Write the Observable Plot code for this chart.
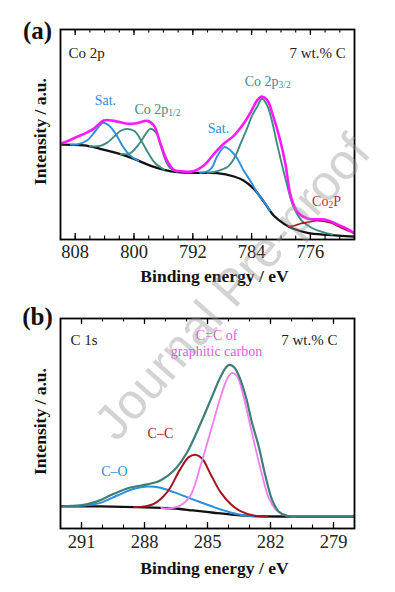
<!DOCTYPE html>
<html><head><meta charset="utf-8">
<script src="https://cdn.jsdelivr.net/npm/d3@7"></script>
<script src="https://cdn.jsdelivr.net/npm/@observablehq/plot@0.6"></script>
<style>
body{margin:0;background:#fff;}
#wrap{position:relative;width:395px;height:592px;overflow:hidden;}
#wrap svg{display:block;}
#wm{position:absolute;left:232px;top:287px;transform:translate(-50%,-50%) rotate(-48.5deg);font-family:"Liberation Sans",Arial,sans-serif;font-size:50px;color:rgba(150,150,150,0.42);white-space:nowrap;pointer-events:none;}
</style></head><body><div id="wrap"></div>
<script>
// ---------- Panel (a): Co 2p ----------
const coMajor = [808, 800, 792, 784, 776];
const coMinor = [810, 808, 806, 804, 802, 800, 798, 796, 794, 792, 790, 788, 786, 784, 782, 780, 778, 776, 774, 772, 770];

const coBgE = [810, 806.8, 804.6, 802.3, 800.0, 797.8, 795.9, 794.1, 791.0, 788.7, 786.4, 785.1, 783.7, 782.3, 781.0, 779.6, 778.3, 776.4, 773.7, 770.0];
const coBgI = [45.2, 44.8, 43.2, 41.1, 38.4, 35.2, 33.2, 32.1, 31.7, 31.6, 30.0, 28.1, 24.1, 17.8, 11.4, 7.5, 5.1, 3.2, 2.2, 1.4];

const coEnvE = [810, 808.6, 807.7, 806.8, 805.5, 804.1, 802.7, 800.9, 799.6, 798.2, 797.3, 796.4, 795.5, 794.6, 793.7, 791.9, 790.5, 789.1, 787.8, 786.4, 785.1, 784.0, 783.3, 782.7, 781.9, 781.0, 780.1, 779.4, 778.7, 778.0, 777.3, 776.4, 775.5, 774.6, 773.7, 772.4, 771.0, 770.0];
const coEnvI = [45.6, 47.5, 49.0, 50.3, 52.7, 56.7, 56.5, 55.1, 55.4, 56.5, 54.3, 45.6, 37.6, 33.2, 32.5, 32.5, 35.2, 40.8, 45.6, 49.5, 55.1, 61.4, 66.0, 68.0, 66.5, 58.0, 47.0, 36.0, 21.0, 14.5, 11.6, 10.0, 9.6, 9.6, 9.2, 7.3, 5.0, 3.0];

const coSat1E = [808.6, 807.7, 806.4, 805.2, 804.2, 803.4, 802.5, 801.6, 800.7, 800.0, 799.4];
const coSat1I = [45.2, 45.3, 47.1, 51.9, 55.6, 54.3, 50.3, 44.8, 40.6, 38.6, 37.5];

const coP12aE = [806.0, 804.6, 803.7, 802.7, 801.8, 800.9, 799.9, 798.9, 798.0, 797.1, 795.9];
const coP12aI = [44.4, 44.6, 46.0, 49.0, 51.8, 52.7, 51.5, 46.3, 40.8, 36.3, 33.3];

const coP12bE = [801.8, 800.5, 799.3, 798.4, 797.8, 796.9, 796.3, 795.7, 795.0, 794.1];
const coP12bI = [40.6, 41.2, 45.6, 50.3, 52.7, 50.3, 44.0, 37.6, 33.8, 32.2];

const coSat2E = [791.0, 790.0, 789.4, 788.7, 787.7, 786.9, 786.0, 785.1, 784.1, 783.2, 782.3, 781.5];
const coSat2I = [31.7, 32.5, 34.2, 39.5, 44.0, 42.5, 38.8, 33.0, 27.5, 22.0, 17.9, 13.8];

const coP32E = [790.0, 788.7, 787.3, 786.4, 785.5, 784.6, 784.0, 783.2, 782.6, 781.9, 781.2, 780.5, 779.4, 778.3, 777.3, 776.4, 775.5, 774.2, 773.0];
const coP32I = [31.7, 32.6, 34.5, 38.5, 45.6, 53.0, 58.5, 63.5, 67.0, 64.0, 56.0, 45.0, 29.0, 15.5, 9.5, 6.8, 5.0, 3.4, 2.4];

const coCo2PE = [779.0, 778.3, 777.4, 776.4, 775.1, 773.3, 771.5, 770.0];
const coCo2PI = [6.2, 6.5, 7.5, 8.2, 9.0, 8.0, 5.1, 2.9];

const coLabelText = ["Co 2p", "7 wt.% C", "Sat.", "Co 2p_{1/2}", "Sat.", "Co 2p_{3/2}", "Co_{2}P"];
const coLabelE = [808.9, 771.2, 803.9, 796.8, 788.5, 781.8, 773.8];
const coLabelI = [88.6, 88.6, 66.7, 62.4, 53.3, 75.7, 18.6];

// ---------- Panel (b): C 1s ----------
const cMajor = [291, 288, 285, 282, 279];
const cMinor = [292, 291, 290, 289, 288, 287, 286, 285, 284, 283, 282, 281, 280, 279, 278];

const cBgE = [292, 290.1, 288.5, 287.2, 286.4, 285.7, 284.7, 283.7, 282.8, 281.2, 278];
const cBgI = [10.6, 10.5, 10.2, 9.8, 9.4, 8.6, 7.5, 6.5, 5.9, 5.7, 5.7];

const cEnvE = [292.0, 291.05, 290.25, 289.46, 288.67, 287.87, 287.24, 286.6, 285.97, 285.33, 284.86, 284.46, 284.19, 283.98, 283.75, 283.51, 283.19, 282.87, 282.56, 282.24, 281.92, 281.6, 281.21, 280.57, 278.0];
const cEnvI = [10.6, 11.0, 12.9, 16.5, 19.5, 21.0, 22.9, 27.6, 36.3, 50.0, 61.0, 70.5, 75.7, 77.9, 77.0, 72.9, 63.3, 50.0, 39.0, 25.0, 13.5, 8.0, 6.0, 5.7, 5.7];

const cCOE = [291.3, 290.9, 290.1, 289.3, 288.5, 287.87, 287.24, 286.6, 285.97, 285.33, 284.7, 284.06, 283.43, 282.8];
const cCOI = [10.6, 10.9, 12.2, 15.7, 18.9, 20.0, 19.4, 17.3, 14.9, 12.5, 10.2, 8.1, 6.5, 5.8];

const cCCE = [288.5, 288.19, 287.56, 286.92, 286.29, 285.89, 285.57, 285.25, 284.86, 284.38, 283.9, 283.43, 282.8, 282.16];
const cCCI = [10.2, 10.3, 11.7, 17.3, 28.4, 34.0, 35.1, 33.2, 26.0, 17.3, 11.7, 8.3, 6.2, 5.7];

const cGrE = [287.2, 286.92, 286.29, 285.81, 285.33, 284.86, 284.38, 284.06, 283.83, 283.59, 283.35, 283.03, 282.71, 282.4, 282.08, 281.68, 281.21, 280.8];
const cGrI = [9.8, 9.5, 11.0, 15.7, 30.0, 46.0, 62.5, 71.3, 74.1, 72.5, 65.5, 52.0, 38.0, 25.5, 14.5, 8.3, 6.0, 5.7];

const cLabelText = ["C 1s", "7 wt.% C", "C=C of\ngraphitic carbon", "C–C", "C–O"];
const cLabelE = [291.52, 278.81, 284.57, 287.24, 289.43];
const cLabelI = [89.5, 89.5, 88.6, 45.7, 27.6];

// ---------- styling ----------
const SERIF = "'Liberation Serif','Times New Roman',serif";
const COL = {mag: "#ff19ff", blue: "#2a8fe0", teal: "#3f8c7f", dred: "#a3141c", black: "#111", pink: "#f27df2", teal2: "#3d7f78"};
const coLabelColor = ["#222", "#222", "#2d8de0", "#3d8c80", "#2d8de0", "#468a8c", "#b23040"];
const coLabelAnchor = ["start", "end", "middle", "middle", "middle", "middle", "middle"];
const cLabelColor = ["#222", "#222", "#e05ae0", "#a3202a", "#2d8fd8"];
const cLabelAnchor = ["start", "end", "middle", "middle", "middle"];

function rows(E, I) { return E.map((e, k) => ({e, i: I[k]})); }

function subscripts(svg) {
  const NS = "http://www.w3.org/2000/svg";
  svg.querySelectorAll("text").forEach(t => {
    if (t.children.length) return;
    const s = t.textContent;
    if (!s.includes("_{")) return;
    const parts = s.split(/(_\{[^}]*\})/);
    t.textContent = "";
    parts.forEach(p => {
      if (!p) return;
      const ts = document.createElementNS(NS, "tspan");
      if (p.startsWith("_{")) {
        ts.textContent = p.slice(2, -1);
        ts.setAttribute("font-size", "0.68em");
        ts.setAttribute("baseline-shift", "-22%");
      } else ts.textContent = p;
      t.appendChild(ts);
    });
  });
}

function panel(cfg) {
  const fh = cfg.height - cfg.mt - cfg.mb;
  const marks = [
    Plot.tickX(cfg.minor, {insetTop: fh - 3.5, strokeWidth: 1.1, stroke: "#000"}),
    Plot.tickX(cfg.minor, {insetBottom: fh - 3.5, strokeWidth: 1.1, stroke: "#000"}),
    Plot.tickX(cfg.major, {insetTop: fh - 6, strokeWidth: 1.3, stroke: "#000"}),
    Plot.tickX(cfg.major, {insetBottom: fh - 6, strokeWidth: 1.3, stroke: "#000"}),
  ];
  cfg.series.forEach(s => marks.push(Plot.line(rows(s.E, s.I), {x: "e", y: "i", stroke: s.color, strokeWidth: s.w, curve: "catmull-rom", clip: true})));
  marks.push(Plot.frame({stroke: "#000", strokeWidth: 1.8}));
  marks.push(Plot.axisX({ticks: cfg.major, tickSize: 0, tickPadding: cfg.tickPad, fontSize: 18.5, label: null, tickFormat: d => String(d), fill: "#222"}));
  const lab = cfg.labels.map((t, k) => ({t, e: cfg.labE[k], i: cfg.labI[k], c: cfg.labC[k], a: cfg.labA[k]}));
  marks.push(Plot.text(lab.filter(d => d.a === "start"), {x: "e", y: "i", text: "t", fill: "c", textAnchor: "start", fontSize: 15}));
  marks.push(Plot.text(lab.filter(d => d.a === "end"), {x: "e", y: "i", text: "t", fill: "c", textAnchor: "end", fontSize: 15}));
  marks.push(Plot.text(lab.filter(d => d.a === "middle"), {x: "e", y: "i", text: "t", fill: "c", textAnchor: "middle", fontSize: 14, lineHeight: 1.15}));
  marks.push(Plot.text(["Binding energy / eV"], {frameAnchor: "bottom", textAnchor: "middle", lineAnchor: "middle", dy: cfg.xlDy, dx: 7, fontWeight: "bold", fontSize: 17.5, fill: "#111"}));
  marks.push(Plot.text(["Intensity / a.u."], {frameAnchor: "left", textAnchor: "middle", lineAnchor: "middle", rotate: -90, dx: -20, dy: cfg.ylDy, fontWeight: "bold", fontSize: 17.5, fill: "#111"}));
  marks.push(Plot.text([cfg.tag], {frameAnchor: "top-left", textAnchor: "middle", lineAnchor: "middle", dx: -23, dy: cfg.tagDy, fontWeight: "bold", fontSize: 25, fill: "#111"}));
  const p = Plot.plot({
    width: 395, height: cfg.height,
    marginTop: cfg.mt, marginBottom: cfg.mb, marginLeft: 60, marginRight: 41,
    x: {domain: cfg.domain},
    y: {domain: [0, 100], axis: null},
    style: {fontFamily: SERIF, background: "white", overflow: "visible"},
    marks
  });
  subscripts(p);
  return p;
}

const wrap = document.getElementById("wrap");
wrap.appendChild(panel({
  height: 295, mt: 29, mb: 56, domain: [810, 770], tickPad: 5, xlDy: 37, ylDy: -3, tagDy: 1, tag: "(a)",
  major: coMajor, minor: coMinor,
  series: [
    {E: coBgE, I: coBgI, color: COL.black, w: 2.3},
    {E: coSat1E, I: coSat1I, color: COL.blue, w: 1.9},
    {E: coP12aE, I: coP12aI, color: COL.teal, w: 1.9},
    {E: coP12bE, I: coP12bI, color: COL.teal, w: 1.9},
    {E: coSat2E, I: coSat2I, color: COL.blue, w: 1.9},
    {E: coP32E, I: coP32I, color: COL.teal, w: 1.9},
    {E: coCo2PE, I: coCo2PI, color: COL.dred, w: 1.6},
    {E: coEnvE, I: coEnvI, color: COL.mag, w: 2.6}
  ],
  labels: coLabelText, labE: coLabelE, labI: coLabelI, labC: coLabelColor, labA: coLabelAnchor
}));
wrap.appendChild(panel({
  height: 297, mt: 23, mb: 64, domain: [292, 278], tickPad: 6, xlDy: 40, ylDy: -2, tagDy: -1.5, tag: "(b)",
  major: cMajor, minor: cMinor,
  series: [
    {E: cBgE, I: cBgI, color: COL.black, w: 2.3},
    {E: cCOE, I: cCOI, color: COL.blue, w: 2.0},
    {E: cCCE, I: cCCI, color: COL.dred, w: 2.0},
    {E: cGrE, I: cGrI, color: COL.pink, w: 1.8},
    {E: cEnvE, I: cEnvI, color: COL.teal2, w: 2.2}
  ],
  labels: cLabelText, labE: cLabelE, labI: cLabelI, labC: cLabelColor, labA: cLabelAnchor
}));
const wm = document.createElement("div");
wm.id = "wm";
wm.textContent = "Journal Pre-proof";
wrap.appendChild(wm);
</script></body></html>
